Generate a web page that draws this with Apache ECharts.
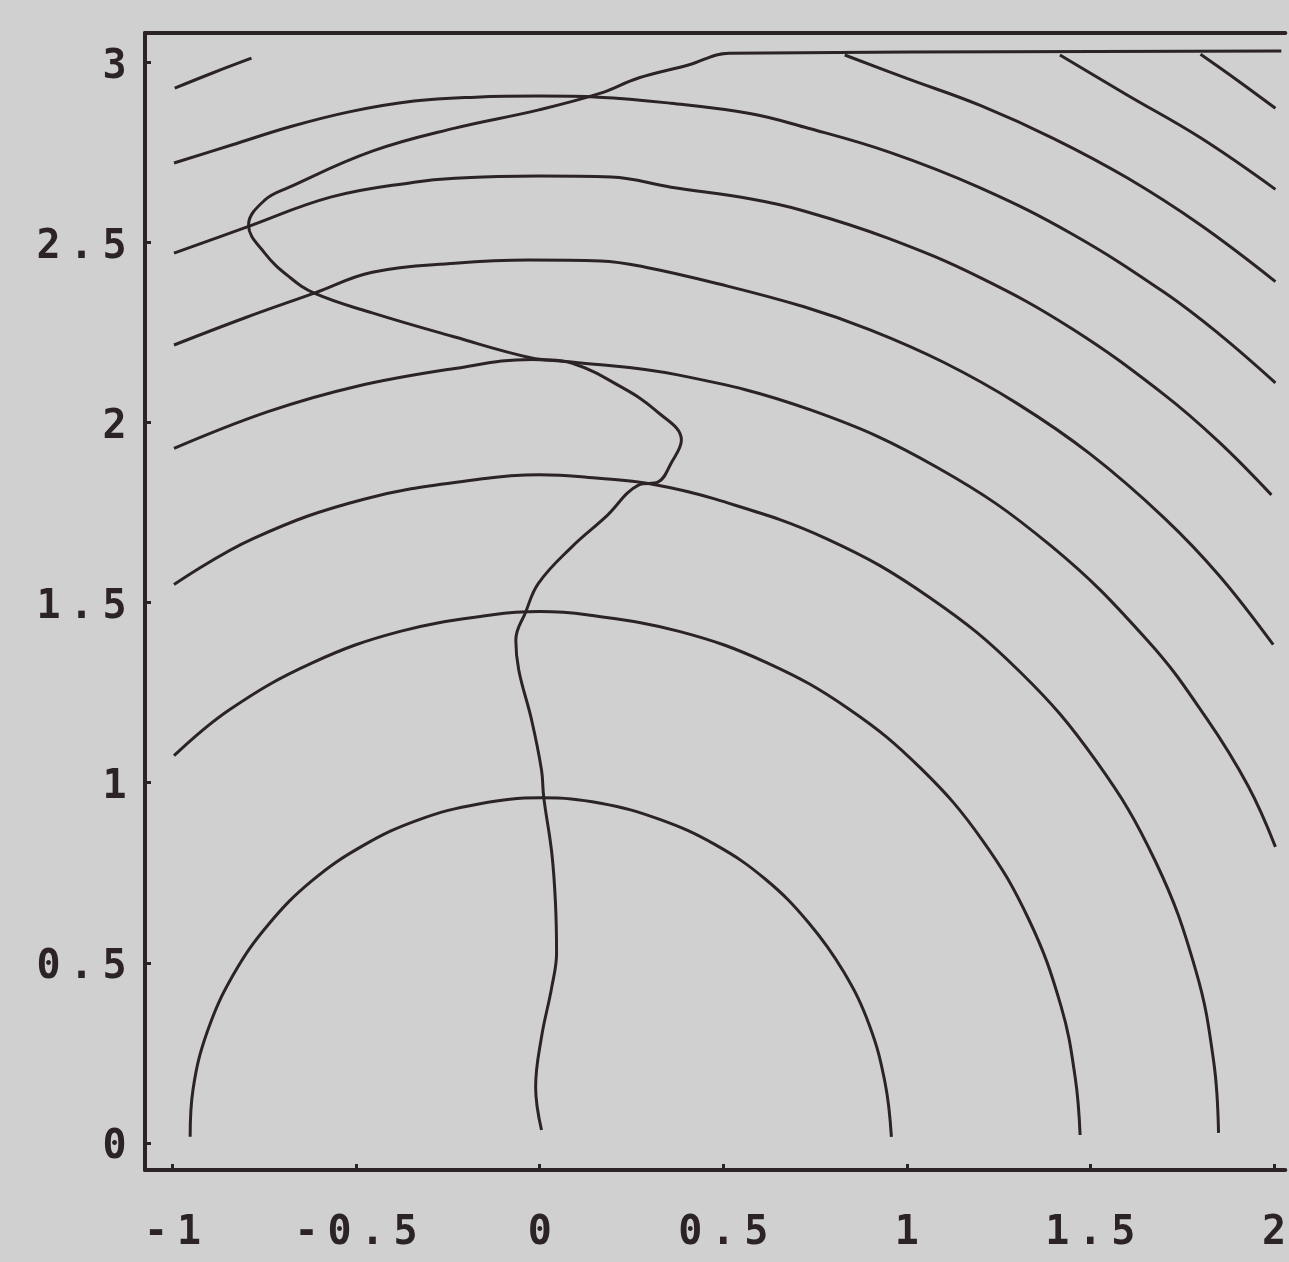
<!DOCTYPE html>
<html>
<head>
<meta charset="utf-8">
<script src="https://cdn.jsdelivr.net/npm/echarts@6/dist/echarts.min.js"></script>
<style>
  html, body { margin: 0; padding: 0; background: #cfd0cf; }
  #chart { width: 1289px; height: 1262px; }
</style>
</head>
<body>
<div id="chart"></div>
<script>
// tick labels
const xTicks = [-1, -0.5, 0, 0.5, 1, 1.5, 2]
const yTicks = [0, 0.5, 1, 1.5, 2, 2.5, 3]

// contour lines as [x, y]
const arc095 = [[-0.952, 0.017], [-0.944, 0.150], [-0.905, 0.310], [-0.835, 0.466], [-0.740, 0.605],
  [-0.620, 0.728], [-0.480, 0.826], [-0.330, 0.897], [-0.166, 0.941], [0.005, 0.958], [0.166, 0.943],
  [0.327, 0.898], [0.478, 0.828], [0.615, 0.732], [0.732, 0.612], [0.828, 0.475], [0.898, 0.327],
  [0.941, 0.166], [0.958, 0.017]]
const arc147 = [[-0.996, 1.075], [-0.843, 1.204], [-0.621, 1.332], [-0.380, 1.420], [-0.128, 1.466],
  [0.000, 1.475], [0.128, 1.466], [0.380, 1.420], [0.621, 1.332], [0.843, 1.204], [1.039, 1.039],
  [1.204, 0.843], [1.332, 0.621], [1.420, 0.380], [1.459, 0.179], [1.472, 0.022]]
const arc185 = [[-0.996, 1.550], [-0.782, 1.677], [-0.479, 1.787], [-0.161, 1.843], [0.000, 1.855],
  [0.161, 1.845], [0.300, 1.830], [0.479, 1.787], [0.782, 1.677], [1.061, 1.515], [1.308, 1.308],
  [1.515, 1.061], [1.677, 0.782], [1.787, 0.479], [1.836, 0.225], [1.849, 0.028]]
const arc216 = [[-0.996, 1.928], [-0.740, 2.030], [-0.500, 2.100], [-0.231, 2.150], [-0.022, 2.175],
  [0.087, 2.168], [0.376, 2.132], [0.740, 2.034], [1.083, 1.875], [1.392, 1.658], [1.658, 1.392],
  [1.816, 1.179], [1.930, 0.990], [2.004, 0.822]]
const arc243 = [[-0.996, 2.215], [-0.804, 2.290], [-0.614, 2.359], [-0.456, 2.417], [-0.231, 2.442],
  [-0.030, 2.451], [0.166, 2.448], [0.288, 2.431], [0.486, 2.385], [0.720, 2.321], [0.900, 2.257],
  [1.100, 2.167], [1.300, 2.053], [1.500, 1.912], [1.700, 1.736], [1.850, 1.576], [1.998, 1.383]]
const arc268 = [[-0.996, 2.470], [-0.804, 2.540], [-0.567, 2.626], [-0.342, 2.667], [-0.231, 2.678],
  [-0.003, 2.684], [0.195, 2.681], [0.358, 2.653], [0.576, 2.620], [0.720, 2.587], [0.950, 2.511],
  [1.200, 2.402], [1.450, 2.260], [1.700, 2.078], [1.850, 1.946], [1.993, 1.799]]
const arc291 = [[-0.996, 2.720], [-0.839, 2.770], [-0.682, 2.820], [-0.519, 2.862], [-0.342, 2.892],
  [-0.174, 2.903], [-0.003, 2.906], [0.160, 2.903], [0.358, 2.886], [0.576, 2.857], [0.720, 2.820],
  [0.950, 2.751], [1.200, 2.651], [1.450, 2.523], [1.700, 2.362], [1.850, 2.246], [2.004, 2.110]]
const arc312Left = [[-0.994, 2.928], [-0.891, 2.970], [-0.785, 3.011]]
const arc312Right = [[0.831, 3.020], [1.000, 2.955], [1.200, 2.880], [1.400, 2.788], [1.600, 2.679],
  [1.800, 2.548], [2.004, 2.391]]
const arc332 = [[1.417, 3.020], [1.600, 2.909], [1.800, 2.790], [2.004, 2.647]]
const arc350 = [[1.800, 3.022], [1.900, 2.950], [2.004, 2.872]]
// the wandering line from the bottom up to the top edge
const crossLine = [[0.005, 0.036], [-0.011, 0.155], [0.005, 0.294], [0.033, 0.433], [0.046, 0.527],
  [0.043, 0.666], [0.033, 0.805], [0.011, 0.960], [0.005, 1.035], [-0.022, 1.174], [-0.057, 1.313],
  [-0.065, 1.396], [-0.038, 1.474], [-0.003, 1.554], [0.087, 1.654], [0.179, 1.737], [0.269, 1.826],
  [0.323, 1.835], [0.358, 1.887], [0.386, 1.951], [0.315, 2.034], [0.223, 2.098], [0.087, 2.165],
  [-0.022, 2.179], [-0.231, 2.237], [-0.456, 2.304], [-0.614, 2.359], [-0.682, 2.404], [-0.749, 2.470],
  [-0.793, 2.548], [-0.749, 2.617], [-0.682, 2.653], [-0.456, 2.753], [-0.231, 2.817], [-0.005, 2.867],
  [0.166, 2.914], [0.269, 2.956], [0.405, 2.992], [0.516, 3.025], [2.020, 3.031]]

const curves = [arc095, arc147, arc185, arc216, arc243, arc268, arc291,
  arc312Left, arc312Right, arc332, arc350, crossLine]

const ink = '#2b2326'

// monospace labels with wide letter spacing
function spaced(v) {
  return String(v).split('').map(c => '{c|' + c + '}').join('')
}
const labelRich = {
  c: { width: 33, align: 'center', fontSize: 40, fontWeight: 'bold', fontFamily: 'DejaVu Sans Mono', color: ink }
}

let chartDom = document.getElementById('chart')
let myChart = echarts.init(chartDom)
let option = {
  backgroundColor: '#cfd0cf',
  animation: false,
  grid: { left: 145, top: 33, right: 0, bottom: 92 },
  xAxis: [
    {
      type: 'value',
      min: -1.075,
      max: 2.031,
      position: 'bottom',
      splitLine: { show: false },
      axisLine: { show: true, onZero: false, lineStyle: { color: ink, width: 4 } },
      axisTick: { show: true, inside: true, length: 6, customValues: xTicks, lineStyle: { color: ink, width: 3 } },
      axisLabel: { show: true, customValues: xTicks, margin: 44, formatter: spaced, rich: labelRich }
    },
    {
      type: 'value',
      min: -1.075,
      max: 2.031,
      position: 'top',
      splitLine: { show: false },
      axisLine: { show: true, onZero: false, lineStyle: { color: ink, width: 4 } },
      axisTick: { show: false },
      axisLabel: { show: false }
    }
  ],
  yAxis: {
    type: 'value',
    min: -0.075,
    max: 3.081,
    splitLine: { show: false },
    axisLine: { show: true, onZero: false, lineStyle: { color: ink, width: 4 } },
    axisTick: { show: true, inside: true, length: 6, customValues: yTicks, lineStyle: { color: ink, width: 3 } },
    axisLabel: { show: true, customValues: yTicks, margin: 14, padding: [10, 0, 0, 0], formatter: spaced, rich: labelRich }
  },
  series: curves.map(pts => ({
    type: 'line',
    data: pts,
    showSymbol: false,
    smooth: 0.4,
    lineStyle: { color: ink, width: 3 }
  }))
}

option && myChart.setOption(option)
</script>
</body>
</html>
